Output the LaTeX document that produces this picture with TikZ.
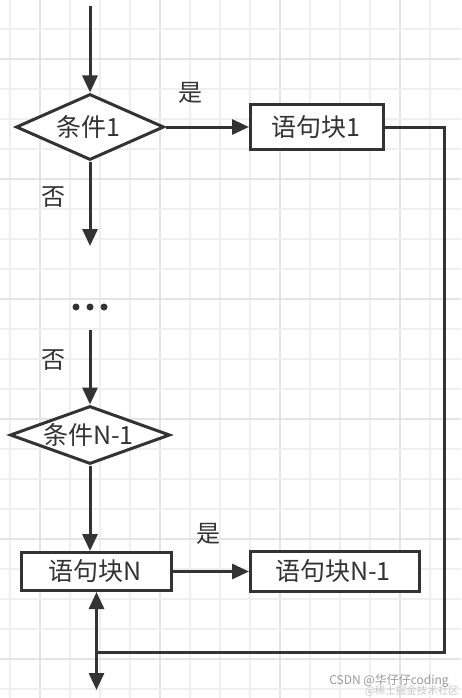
\documentclass[tikz,border=0pt]{standalone}
\usepackage{fontspec}
\setmainfont{Noto Sans CJK SC}
\usetikzlibrary{arrows.meta,shapes.geometric}
\definecolor{ink}{HTML}{333333}
\definecolor{gridminor}{HTML}{EFEFEF}
\definecolor{gridmajor}{HTML}{E4E4E4}
\definecolor{wm}{HTML}{9A9A9A}
\definecolor{wmlight}{HTML}{C8C8C8}
\tikzset{
  flow/.style={draw=ink, line width=3pt, -{Triangle[length=17pt,width=15pt]}},
  plain/.style={draw=ink, line width=3pt},
  decision/.style={shape=diamond, draw=ink, line width=3pt, fill=white, inner sep=0pt},
  blockbox/.style={shape=rectangle, draw=ink, line width=3pt, fill=white, inner sep=0pt},
  boxtext/.style={text=ink, font=\fontsize{25}{29}\selectfont, inner sep=0pt},
  lbl/.style={text=ink, font=\fontsize{24}{28}\selectfont, inner sep=0pt},
  dot/.style={shape=circle, fill=ink, minimum size=7pt, inner sep=0pt},
}
\begin{document}
\begin{tikzpicture}[x=1pt,y=-1pt]
\useasboundingbox (0,0) rectangle (461,698);
\fill[white] (0,0) rectangle (461,698);
% grid
\foreach \gx in {10,70,100,130,190,220,250,310,340,370,430}
  \draw[gridminor, line width=1.5pt] (\gx,0) -- (\gx,698);
\foreach \gx in {40,160,280,400}
  \draw[gridmajor, line width=1.8pt] (\gx,0) -- (\gx,698);
\foreach \gy in {-1,29,89,119,149,209,239,269,329,359,389,449,479,509,569,599,629,689}
  \draw[gridminor, line width=1.5pt] (0,\gy) -- (461,\gy);
\foreach \gy in {59,179,299,419,539,659}
  \draw[gridmajor, line width=1.8pt] (0,\gy) -- (461,\gy);
% nodes
\node[decision, minimum width=148pt, minimum height=66pt] (c1) at (90,127) {};
\node[boxtext] (c1t) at (88,127) {条件1};
\node[blockbox, minimum width=133pt, minimum height=45pt] (b1) at (317,127) {};
\node[boxtext] (b1t) at (316,127) {语句块1};
\node[decision, minimum width=160pt, minimum height=58pt] (c2) at (90,435) {};
\node[boxtext] (c2t) at (88.5,435) {条件N-1};
\node[blockbox, minimum width=150pt, minimum height=38pt] (bN) at (96.5,571.5) {};
\node[boxtext] (bNt) at (95,571.5) {语句块N};
\node[blockbox, minimum width=169pt, minimum height=40pt] (bM) at (335,571.5) {};
\node[boxtext] (bMt) at (333,571.5) {语句块N-1};
\node[lbl] (yes1) at (190,93) {是};
\node[lbl] (no1) at (53,197) {否};
\node[lbl] (no2) at (53,360) {否};
\node[lbl] (yes2) at (208,534) {是};
\node[dot] (d1) at (76,307) {};
\node[dot] (d2) at (90,307) {};
\node[dot] (d3) at (104,307) {};
% coordinates
\coordinate (start) at (90,6);
\coordinate (mid1) at (90,246);
\coordinate (mid2) at (90,330);
\coordinate (rtop) at (444,127);
\coordinate (rbot) at (444,652);
\coordinate (join) at (96.5,652);
\coordinate (endpt) at (96.5,690);
% connectors
\draw[flow] (start) -- (c1.north);
\draw[flow] (c1.east) -- (b1.west);
\draw[flow] (c1.south) -- (mid1);
\draw[flow] (mid2) -- (c2.north);
\draw[flow] (c2.south) -- (c2.south |- bN.north);
\draw[flow] (bN.east) -- (bM.west);
\draw[plain, line join=miter] (b1.east) -- (rtop) -- (rbot) -- (join);
\draw[flow] (join) -- (bN.south);
\draw[flow] (join) -- (endpt);
% watermark
\node[text=wmlight, font=\fontsize{10.5}{12}\selectfont, inner sep=0pt] (wm2) at (412,691) {@稀土掘金技术社区};
\node[text=wm, font=\fontsize{12}{14}\selectfont, inner sep=0pt] (wm1) at (389,681) {CSDN @华仔仔coding};
\end{tikzpicture}
\end{document}
